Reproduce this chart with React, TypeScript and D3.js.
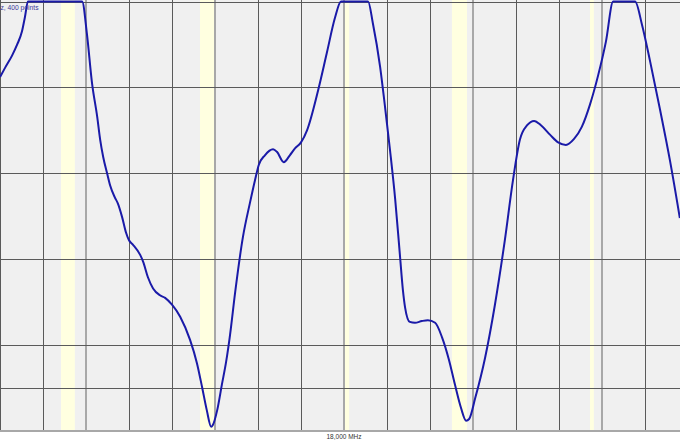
import React from "react";
import * as d3 from "d3";

// Sweep data: frequency (MHz) and level (dB), top of screen clipped at 0 dB
const freqMHz = [
  17200, 17212, 17228, 17240, 17251, 17258, 17265, 17391, 17402, 17414, 17426,
  17433, 17440, 17449, 17456, 17467, 17474, 17484, 17493, 17500, 17509,
  17526, 17533, 17544, 17556, 17572, 17584, 17600, 17619, 17642, 17658,
  17670, 17681, 17691, 17695, 17705, 17716, 17726, 17735, 17747, 17765,
  17781, 17793, 17802, 17816, 17835, 17844, 17860, 17874, 17886, 17900,
  17914, 17940, 17960, 17979, 17993, 18056, 18067, 18084, 18095, 18107,
  18119, 18130, 18137, 18142, 18153, 18165, 18181, 18195, 18212, 18228,
  18244, 18258, 18272, 18284, 18291, 18305, 18328, 18351, 18374, 18393,
  18409, 18426, 18442, 18458, 18479, 18498, 18516, 18535, 18553, 18572,
  18591, 18609, 18626, 18677, 18693, 18712, 18735, 18758, 18781,
];
const levelDb = [
  -8.8, -7.7, -6.3, -5.0, -3.5, -1.8, 0, 0, -3.7, -9.5, -13.4,
  -16.1, -18.1, -20.0, -21.4, -22.8, -23.5, -25.1, -26.9, -27.8, -28.3,
  -29.5, -30.3, -32.1, -33.4, -34.2, -34.5, -35.3, -36.7, -39.4, -42.1,
  -44.9, -47.6, -49.5, -49.3, -47.6, -44.6, -41.9, -38.8, -33.8, -27.4,
  -23.5, -20.8, -19.0, -17.9, -17.2, -17.5, -18.7, -17.9, -17.1, -16.4,
  -15.0, -10.3, -6.0, -1.9, 0, 0, -2.5, -7.6, -12.1, -17.3,
  -23.0, -29.5, -33.6, -35.6, -37.3, -37.4, -37.2, -37.1, -37.4, -39.1,
  -41.7, -44.6, -47.3, -48.8, -48.6, -46.2, -41.5, -35.3, -27.8, -20.8,
  -16.1, -14.4, -13.9, -14.4, -15.5, -16.4, -16.7, -16.0, -14.6, -12.0,
  -8.6, -4.7, 0, 0, -2.7, -7.0, -12.6, -18.5, -25.2,
];

// Highlighted (yellow) frequency bands, MHz
const bandStart = [17342, 17665, 18002, 18251, 18572];
const bandEnd = [17374, 17698, 18012, 18286, 18581];

// Grid
const vGridMHz = d3.range(17200, 18801, 100);
const vGridMajor = [17400, 17700, 18000, 18300, 18600];
const hGridDb = [0, -10, -20, -30, -40, -45];
const centerLabel = "18,000 MHz";
const infoLabel = "z, 400 points";

const W = 680;
const H = 440;
const plotBottom = 431;
const plotTop = 1.5;

export default function App() {
  const x = d3.scaleLinear().domain([17200, 18800]).range([0, 688]);
  const y = d3.scaleLinear().domain([-50, 0]).range([plotBottom, plotTop]);
  const pts: [number, number][] = freqMHz.map((f, i) => [f, levelDb[i]]);
  const line = d3
    .line<[number, number]>()
    .x((d) => x(d[0]))
    .y((d) => y(Math.min(0, d[1])))
    .curve(d3.curveMonotoneX);

  return (
    <svg
      width={W}
      height={H}
      style={{ position: "absolute", left: 0, top: 0, background: "#ffffff" }}
      fontFamily="'Liberation Sans', Arial, sans-serif"
    >
      <defs>
        <clipPath id="plotClip">
          <rect x={0} y={0} width={W} height={plotBottom} />
        </clipPath>
      </defs>
      <rect x={0} y={0} width={W} height={plotBottom} fill="#f0f0f0" />
      {bandStart.map((b, i) => (
        <rect
          key={"band" + i}
          x={x(b)}
          y={0}
          width={x(bandEnd[i]) - x(b)}
          height={plotBottom}
          fill="#ffffe0"
        />
      ))}
      {vGridMHz.map((f) => {
        const major = vGridMajor.includes(f);
        const xp = Math.round(x(f)) + (major ? 0 : 0.5);
        return (
          <line
            key={"v" + f}
            x1={xp}
            x2={xp}
            y1={0}
            y2={plotBottom}
            stroke={major ? "#a8a8a8" : "#5a5a5a"}
            strokeWidth={major ? 2 : 1}
          />
        );
      })}
      {hGridDb.map((v) => {
        const yp = Math.round(y(v)) + 0.5;
        return (
          <line
            key={"h" + v}
            x1={0}
            x2={W}
            y1={yp}
            y2={yp}
            stroke="#5a5a5a"
            strokeWidth={1}
          />
        );
      })}
      <line x1={0} x2={W} y1={plotBottom} y2={plotBottom} stroke="#a8a8a8" strokeWidth={2} />
      <g clipPath="url(#plotClip)">
        <path d={line(pts) || ""} fill="none" stroke="#1a1aa8" strokeWidth={2} strokeLinejoin="round" />
      </g>
      <text x={0.5} y={9.5} fontSize={7.5} fill="#3a3a9a" textLength={38} lengthAdjust="spacingAndGlyphs">
        {infoLabel}
      </text>
      <text x={x(18000)} y={438.5} fontSize={7} fill="#333333" textAnchor="middle" textLength={35} lengthAdjust="spacingAndGlyphs">
        {centerLabel}
      </text>
    </svg>
  );
}
